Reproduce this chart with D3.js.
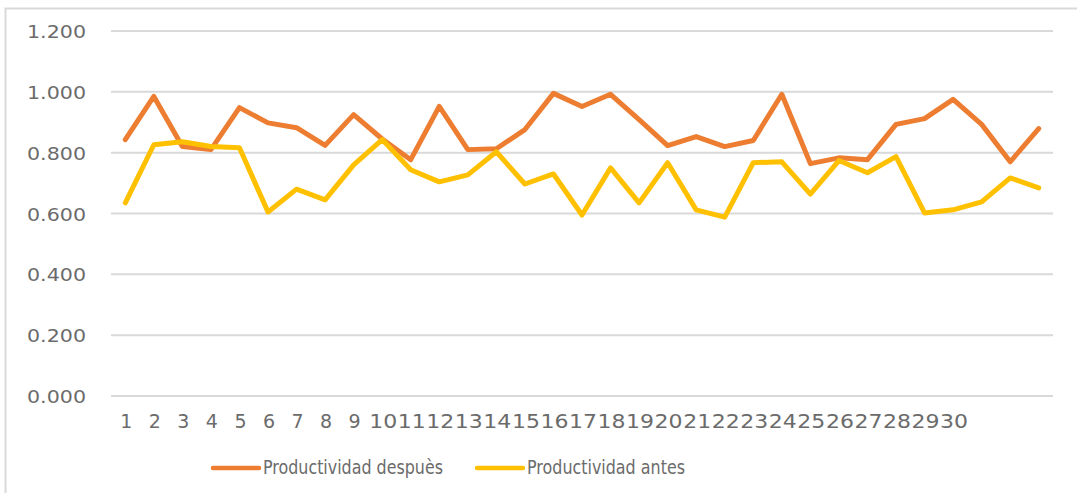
<!DOCTYPE html>
<html>
<head>
<meta charset="utf-8">
<script src="https://cdn.jsdelivr.net/npm/d3@7"></script>
<style>
  body { margin: 0; background: #fff; }
  text { font-family: 'DejaVu Sans', sans-serif; fill: #6b6b6b; }
</style>
</head>
<body>
<div id="chart"></div>
<script>
// data
const categories = [1, 2, 3, 4, 5, 6, 7, 8, 9, 10, 11, 12, 13, 14, 15, 16, 17,
  18, 19, 20, 21, 22, 23, 24, 25, 26, 27, 28, 29, 30, 31, 32, 33]
const tickLabels = ['1', '2', '3', '4', '5', '6', '7', '8', '9', '10', '11', '12',
  '13', '14', '15', '16', '17', '18', '19', '20', '21', '22', '23', '24', '25',
  '26', '27', '28', '29', '30', '', '', '']
const despues = [0.843, 0.985, 0.820, 0.810, 0.948, 0.898, 0.882, 0.824, 0.925,
  0.845, 0.777, 0.952, 0.810, 0.813, 0.876, 0.995, 0.952, 0.992, 0.909, 0.823,
  0.853, 0.820, 0.840, 0.992, 0.764, 0.783, 0.777, 0.893, 0.912, 0.975, 0.893,
  0.770, 0.879]
const antes = [0.635, 0.826, 0.836, 0.820, 0.816, 0.605, 0.680, 0.645, 0.760,
  0.843, 0.744, 0.704, 0.727, 0.803, 0.697, 0.730, 0.595, 0.750, 0.635, 0.767,
  0.612, 0.588, 0.767, 0.770, 0.664, 0.774, 0.734, 0.787, 0.602, 0.612, 0.638,
  0.717, 0.684]
const yTicks = [0, 0.2, 0.4, 0.6, 0.8, 1.0, 1.2]
const seriesNames = ['Productividad despuès', 'Productividad antes']
const seriesColors = ['#ED7D31', '#FFC000']

const width = 1077
const height = 493

const svg = d3
  .select('#chart')
  .append('svg')
  .attr('width', width)
  .attr('height', height)

// chart frame (only left and top edges are inside the picture)
svg.append('path')
  .attr('d', 'M5.5,' + height + 'V8.5H' + width)
  .attr('fill', 'none')
  .attr('stroke', '#d9d9d9')
  .attr('stroke-width', 2)

const x = d3.scalePoint()
  .domain(categories)
  .range([111, 1053])
  .padding(0.5)

const y = d3.scaleLinear()
  .domain([0, 1.2])
  .range([396, 31])

// gridlines
svg.append('g')
  .selectAll('line')
  .data(yTicks)
  .enter()
  .append('line')
  .attr('x1', 111)
  .attr('x2', 1053)
  .attr('y1', d => y(d))
  .attr('y2', d => y(d))
  .attr('stroke', '#d9d9d9')
  .attr('stroke-width', 2)

// y labels
svg.append('g')
  .selectAll('text')
  .data(yTicks)
  .enter()
  .append('text')
  .attr('x', 86)
  .attr('y', d => y(d) + 7)
  .attr('text-anchor', 'end')
  .attr('font-size', 18)
  .attr('textLength', 59)
  .attr('lengthAdjust', 'spacingAndGlyphs')
  .text(d => d3.format('.3f')(d))

// x labels
svg.append('g')
  .selectAll('text')
  .data(categories)
  .enter()
  .append('text')
  .attr('x', d => x(d) + 1)
  .attr('y', 428)
  .attr('text-anchor', 'middle')
  .attr('font-size', 19)
  .each(function (d, i) {
    const t = tickLabels[i]
    d3.select(this).text(t)
    if (t.length === 2) {
      d3.select(this)
        .attr('textLength', 28)
        .attr('lengthAdjust', 'spacingAndGlyphs')
    }
  })

const line = d3.line()
  .x((d, i) => x(categories[i]))
  .y(d => y(d))

svg.selectAll('.serie')
  .data([despues, antes])
  .enter()
  .append('path')
  .attr('class', 'serie')
  .attr('d', line)
  .attr('fill', 'none')
  .attr('stroke', (d, i) => seriesColors[i])
  .attr('stroke-width', 5)
  .attr('stroke-linejoin', 'round')
  .attr('stroke-linecap', 'round')

// legend
const legendX = [213, 477]
const legendTextLen = [180, 158]
const legend = svg.selectAll('.legend')
  .data(seriesNames)
  .enter()
  .append('g')
  .attr('class', 'legend')
  .attr('transform', (d, i) => 'translate(' + legendX[i] + ',468)')

legend.append('line')
  .attr('x1', 0)
  .attr('x2', 46)
  .attr('stroke', (d, i) => seriesColors[i])
  .attr('stroke-width', 4.5)
  .attr('stroke-linecap', 'round')

legend.append('text')
  .attr('x', 50)
  .attr('y', 6)
  .attr('font-size', 19)
  .attr('textLength', (d, i) => legendTextLen[i])
  .attr('lengthAdjust', 'spacingAndGlyphs')
  .text(d => d)
</script>
</body>
</html>
